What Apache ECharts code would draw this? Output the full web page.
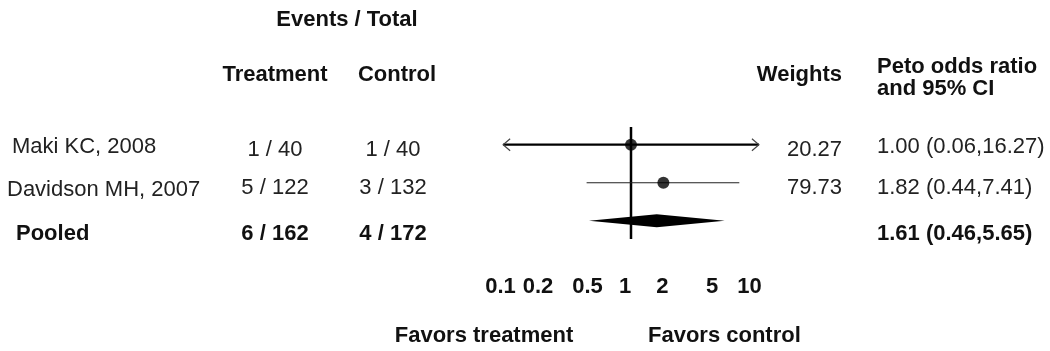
<!DOCTYPE html>
<html>
<head>
<meta charset="utf-8">
<script src="https://cdn.jsdelivr.net/npm/echarts@6/dist/echarts.min.js"></script>
<style>
html,body{margin:0;padding:0;background:#fff;}
#c{width:1050px;height:351px;}
</style>
</head>
<body>
<div id="c"></div>
<script>
// ---- data ----
const studyNames = ['Maki KC, 2008', 'Davidson MH, 2007'];
const pooledName = 'Pooled';
const treatEvents = [1, 5, 6];
const treatTotal = [40, 122, 162];
const ctrlEvents = [1, 3, 4];
const ctrlTotal = [40, 132, 172];
const weights = [20.27, 79.73];
const oddsRatio = [1.00, 1.82, 1.61];
const ciLow = [0.06, 0.44, 0.46];
const ciHigh = [16.27, 7.41, 5.65];
const tickValues = [0.1, 0.2, 0.5, 1, 2, 5, 10];
const tickLabels = ['0.1', '0.2', '0.5', '1', '2', '5', '10'];
const headerEvents = 'Events / Total';
const headerTreat = 'Treatment';
const headerCtrl = 'Control';
const headerWeights = 'Weights';
const headerCI = ['Peto odds ratio', 'and 95% CI'];
const favorsLeft = 'Favors treatment';
const favorsRight = 'Favors control';
const displayMin = 0.094, displayMax = 10.65; // CI lines beyond these get arrows

// ---- layout ----
const FONT = '"Liberation Sans", Arial, sans-serif';
const FS = 22;
const rowTextY = [147, 190, 234];
const evTextY = [150, 188, 234];
const wTextY = [150, 188];
const ciTextY = [147, 188, 234];
const labelX = [12, 7, 16];

const chart = echarts.init(document.getElementById('c'), null, {renderer: 'canvas'});

function fmt2(v){ return v.toFixed(2); }

const studyRows = studyNames.map((n, i) => [ciLow[i], ciHigh[i], i, oddsRatio[i]]);
const pooledRow = [[ciLow[2], ciHigh[2], 2, oddsRatio[2]]];

const option = {
  animation: false,
  backgroundColor: '#fff',
  grid: {left: 469, right: 257, top: 127, bottom: 112, containLabel: false},
  xAxis: {type: 'log', logBase: 10, min: 0.05, max: 20, show: false},
  yAxis: {type: 'value', inverse: true, min: -0.466, max: 2.48, show: false},
  series: [
    {
      type: 'line', data: [[1, -0.466], [1, 2.48]], symbol: 'none',
      lineStyle: {color: '#000', width: 2.5}, z: 2, silent: true
    },
    {
      type: 'custom', z: 3, clip: false,
      data: studyRows,
      renderItem: function (params, api) {
        const lo = api.value(0), hi = api.value(1), row = api.value(2);
        const i = params.dataIndex;
        const loC = Math.max(lo, displayMin), hiC = Math.min(hi, displayMax);
        const p1 = api.coord([loC, row]), p2 = api.coord([hiC, row]);
        const y = p1[1];
        const w = i === 0 ? 2.2 : 1.2;
        const col = i === 0 ? '#000' : '#222';
        const ch = [{type: 'line', shape: {x1: p1[0], y1: y, x2: p2[0], y2: y}, style: {stroke: col, lineWidth: w}}];
        if (lo < displayMin) ch.push({type: 'polyline', shape: {points: [[p1[0] + 7, y - 6], [p1[0], y], [p1[0] + 7, y + 6]]}, style: {stroke: '#444', lineWidth: 1.2, fill: null}});
        if (hi > displayMax) ch.push({type: 'polyline', shape: {points: [[p2[0] - 7, y - 6], [p2[0], y], [p2[0] - 7, y + 6]]}, style: {stroke: '#444', lineWidth: 1.2, fill: null}});
        return {type: 'group', children: ch};
      }
    },
    {
      type: 'custom', z: 3, clip: false,
      data: pooledRow,
      renderItem: function (params, api) {
        const lo = api.coord([api.value(0), api.value(2)]);
        const hi = api.coord([api.value(1), api.value(2)]);
        const est = api.coord([api.value(3), api.value(2)]);
        const h = 6.5;
        return {type: 'polygon', shape: {points: [[lo[0], lo[1]], [est[0], est[1] - h], [hi[0], hi[1]], [est[0], est[1] + h]]}, style: {fill: '#000'}};
      }
    },
    {
      type: 'scatter', z: 4, symbol: 'circle', symbolSize: 12,
      itemStyle: {color: '#000'},
      data: studyNames.map((n, i) => [oddsRatio[i], i])
    }
  ]
};
chart.setOption(option);

// ---- text (graphic) ----
const g = [];
function txt(text, x, y, align, bold, color) {
  g.push({type: 'text', x: x, y: y, style: {text: text, x: 0, y: 0, align: align, verticalAlign: 'middle',
    font: (bold ? 'bold ' : '') + FS + 'px ' + FONT, fill: color || (bold ? '#111' : '#222')}});
}
txt(headerEvents, 347, 20, 'center', true);
txt(headerTreat, 275, 75, 'center', true);
txt(headerCtrl, 397, 75, 'center', true);
txt(headerWeights, 842, 75, 'right', true);
txt(headerCI[0], 877, 67, 'left', true);
txt(headerCI[1], 877, 89, 'left', true);
const allNames = studyNames.concat([pooledName]);
allNames.forEach((n, i) => {
  const bold = i === 2;
  txt(n, labelX[i], rowTextY[i], 'left', bold);
  txt(treatEvents[i] + ' / ' + treatTotal[i], 275, evTextY[i], 'center', bold);
  txt(ctrlEvents[i] + ' / ' + ctrlTotal[i], 393, evTextY[i], 'center', bold);
  txt(fmt2(oddsRatio[i]) + ' (' + fmt2(ciLow[i]) + ',' + fmt2(ciHigh[i]) + ')', 877, ciTextY[i], 'left', bold);
});
weights.forEach((w, i) => txt(fmt2(w), 842, wTextY[i], 'right', false));
tickValues.forEach((v, i) => {
  const px = chart.convertToPixel({gridIndex: 0}, [v, 0]);
  txt(tickLabels[i], px[0] - 6, 287, 'center', true);
});
txt(favorsLeft, 484, 336, 'center', true);
txt(favorsRight, 648, 336, 'left', true);
chart.setOption({graphic: g});
</script>
</body>
</html>
